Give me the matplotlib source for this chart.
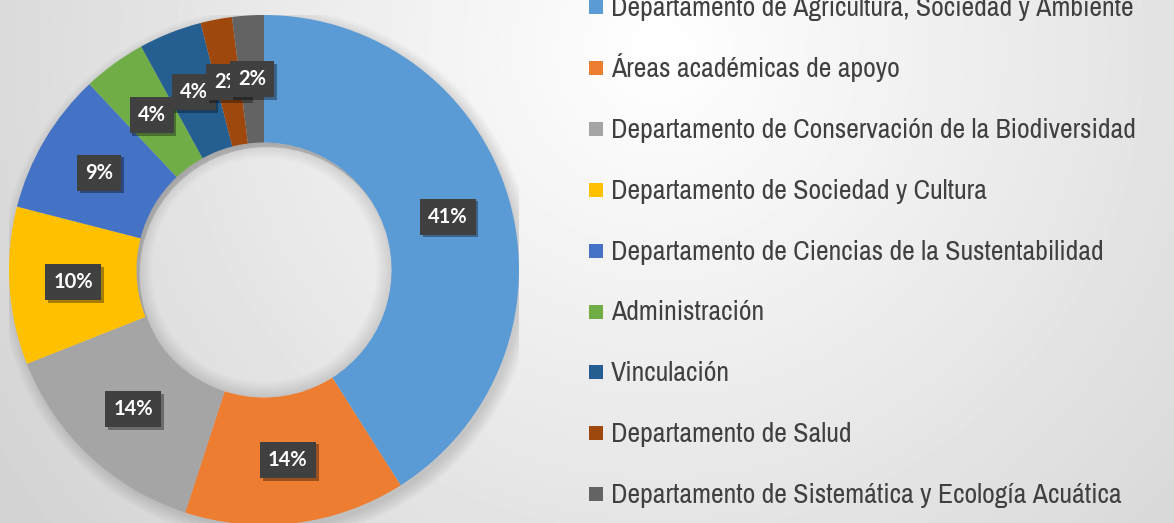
import numpy as np
import matplotlib.pyplot as plt
import matplotlib.patheffects as pe
from matplotlib import font_manager
from matplotlib.font_manager import FontProperties
from matplotlib.patches import Circle, Rectangle, Wedge

# Data
categories = [
    "Departamento de Agricultura, Sociedad y Ambiente",
    "Áreas académicas de apoyo",
    "Departamento de Conservación de la Biodiversidad",
    "Departamento de Sociedad y Cultura",
    "Departamento de Ciencias de la Sustentabilidad",
    "Administración",
    "Vinculación",
    "Departamento de Salud",
    "Departamento de Sistemática y Ecología Acuática",
]
shares = [41, 14, 14, 10, 9, 4, 4, 2, 2]
colors = ["#5B9BD5", "#ED7D31", "#A5A5A5", "#FFC000", "#4472C4",
          "#70AD47", "#255E91", "#9E480E", "#636363"]


# look for a narrow sans face (Arial Narrow look-alike)
def find_narrow():
    best = None
    for f in font_manager.fontManager.ttflist:
        key = (f.name + " " + f.fname).lower()
        if "mono" in key or "serif" in key and "sans" not in key:
            continue
        if "bold" in key or "italic" in key or "oblique" in key:
            continue
        if f.weight not in (400, "normal", "regular", "book"):
            continue
        if "narrow" in key or "condensed" in key or f.stretch in ("condensed", "semi-condensed"):
            score = 0 if "narrow" in key else 1
            if best is None or score < best[0]:
                best = (score, f.fname)
    return FontProperties(fname=best[1]) if best else FontProperties(family="Liberation Sans")


legend_font = find_narrow()

W, H = 1174, 523
fig = plt.figure(figsize=(W / 100, H / 100), dpi=100)

# soft radial background
bg = fig.add_axes([0, 0, 1, 1])
bg.axis("off")
yy, xx = np.mgrid[0:H, 0:W]
d = np.hypot(xx - 660, yy - 50)
shade = 1 - 0.17 * np.clip(d / 780, 0, 1)
bg.imshow(shade, cmap="gray", vmin=0, vmax=1, aspect="auto", extent=[0, W, H, 0])
bg.set_xlim(0, W)
bg.set_ylim(H, 0)

# donut
cx, cy, R = 264, 270, 255
ax = fig.add_axes([(cx - R) / W, (H - cy - R) / H, 2 * R / W, 2 * R / H])

# soft outer shadow (ring only, hole stays clear)
for k in range(6):
    ax.add_patch(Wedge((0.012, -0.018), 1 + 0.009 * k, 0, 360, width=0.5 + 0.009 * k,
                       color="k", alpha=0.022, lw=0, zorder=0))

wedges, texts, autotexts = ax.pie(
    shares, colors=colors, startangle=90, counterclock=False, radius=1,
    wedgeprops=dict(width=0.5, linewidth=0), autopct="%.0f%%", pctdistance=0.75)

# light vignette inside the hole
for k in range(10):
    ax.add_patch(Wedge((0, 0), 0.5, 0, 360, width=0.006 * (k + 1),
                       color="k", alpha=0.012, lw=0, zorder=3))

ax.set_xlim(-1, 1)
ax.set_ylim(-1, 1)
ax.set_aspect("equal")
ax.axis("off")

for t in autotexts:
    t.set_color("white")
    t.set_fontweight("bold")
    t.set_family("Lato")
    t.set_fontsize(14.5)
    t.set_bbox(dict(boxstyle="square,pad=0.4", fc="#404040", ec="none"))
    t.get_bbox_patch().set_path_effects(
        [pe.withSimplePatchShadow(offset=(2, -2), shadow_rgbFace="k", alpha=0.35)])

# legend, font size tuned so the longest label spans ~529 px like the reference
fig.canvas.draw()
renderer = fig.canvas.get_renderer()
probe = fig.text(0, 0, categories[2], fontproperties=legend_font, fontsize=18)
wpx = probe.get_window_extent(renderer).width
probe.remove()
fsize = min(20, 18 * 529 / wpx)

for i, (lab, col) in enumerate(zip(categories, colors)):
    base = 16 + 60.9 * i
    fig.patches.append(Rectangle((589 / W, 1 - (base - 2) / H), 14 / W, 14 / H,
                                 transform=fig.transFigure, fc=col, ec="none"))
    fig.text(611 / W, 1 - base / H, lab, ha="left", va="baseline",
             fontproperties=legend_font, fontsize=fsize, color="#404040")

fig.savefig("out.png", dpi=100)
